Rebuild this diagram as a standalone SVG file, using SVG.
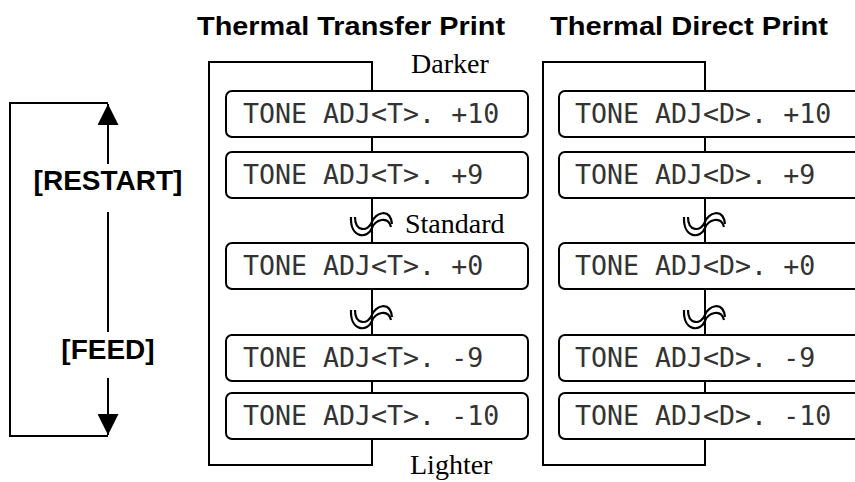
<svg xmlns="http://www.w3.org/2000/svg" width="855" height="482" viewBox="0 0 855 482">
  <style>
    .title { font-family: "Liberation Sans", Arial, sans-serif; font-weight: bold; font-size: 25px; fill: #000; }
    .key { font-family: "Liberation Sans", Arial, sans-serif; font-weight: bold; font-size: 28px; fill: #000; text-anchor: middle; }
    .note { font-family: "Liberation Serif", "Times New Roman", serif; font-size: 28px; fill: #000; }
    .lcd { font-family: "DejaVu Sans Mono", "Liberation Mono", monospace; font-size: 26.6px; fill: #333; }
    .box { fill: #fff; stroke: #000; stroke-width: 2; }
    .line { fill: none; stroke: #000; stroke-width: 2; }
    .brk { fill: none; stroke: #000; stroke-width: 2.2; }
  </style>
  <defs>
    <marker id="arrow" viewBox="0 0 20 20" refX="20" refY="10" markerWidth="21" markerHeight="21" markerUnits="userSpaceOnUse" orient="auto">
      <path d="M0,0 L20,10 L0,20 z" fill="#000"/>
    </marker>
    <g id="squiggle">
      <path d="M-21,6 C-22,28 -4,28 0,17 C3,9 16,4 19,16" class="brk"/>
      <path d="M-17,6 C-17,21 -4,21 0,11 C3,2 18,-4 20,13" class="brk"/>
    </g>
  </defs>

  <text class="title" x="197" y="35" textLength="308" lengthAdjust="spacingAndGlyphs">Thermal Transfer Print</text>
  <text class="title" x="550" y="35" textLength="278" lengthAdjust="spacingAndGlyphs">Thermal Direct Print</text>

  <g id="connectors">
    <path class="line" d="M108,103 H10 V436 H108"/>
    <path class="line" d="M108,164 V104" marker-end="url(#arrow)"/>
    <path class="line" d="M108,212 V332"/>
    <path class="line" d="M108,378 V435" marker-end="url(#arrow)"/>
    <rect class="line" x="209" y="62" width="163" height="403"/>
    <rect class="line" x="543" y="62" width="162" height="403"/>
  </g>

  <text class="key" x="108" y="190">[RESTART]</text>
  <text class="key" x="108" y="359">[FEED]</text>

  <g id="tt-p10"><rect class="box" x="226" y="91" width="302" height="46" rx="6"/><text class="lcd" x="243" y="123">TONE ADJ&lt;T&gt;. +10</text></g>
  <g id="tt-p9"><rect class="box" x="226" y="152" width="302" height="46" rx="6"/><text class="lcd" x="243" y="184">TONE ADJ&lt;T&gt;. +9</text></g>
  <g id="tt-0"><rect class="box" x="226" y="243" width="302" height="46" rx="6"/><text class="lcd" x="243" y="275">TONE ADJ&lt;T&gt;. +0</text></g>
  <g id="tt-m9"><rect class="box" x="226" y="335" width="302" height="46" rx="6"/><text class="lcd" x="243" y="367">TONE ADJ&lt;T&gt;. -9</text></g>
  <g id="tt-m10"><rect class="box" x="226" y="393" width="302" height="46" rx="6"/><text class="lcd" x="243" y="425">TONE ADJ&lt;T&gt;. -10</text></g>

  <g id="td-p10"><rect class="box" x="559" y="91" width="302" height="46" rx="6"/><text class="lcd" x="575" y="123">TONE ADJ&lt;D&gt;. +10</text></g>
  <g id="td-p9"><rect class="box" x="559" y="152" width="302" height="46" rx="6"/><text class="lcd" x="575" y="184">TONE ADJ&lt;D&gt;. +9</text></g>
  <g id="td-0"><rect class="box" x="559" y="243" width="302" height="46" rx="6"/><text class="lcd" x="575" y="275">TONE ADJ&lt;D&gt;. +0</text></g>
  <g id="td-m9"><rect class="box" x="559" y="335" width="302" height="46" rx="6"/><text class="lcd" x="575" y="367">TONE ADJ&lt;D&gt;. -9</text></g>
  <g id="td-m10"><rect class="box" x="559" y="393" width="302" height="46" rx="6"/><text class="lcd" x="575" y="425">TONE ADJ&lt;D&gt;. -10</text></g>

  <use href="#squiggle" x="372" y="211"/>
  <use href="#squiggle" x="372" y="304"/>
  <use href="#squiggle" x="705" y="211"/>
  <use href="#squiggle" x="705" y="304"/>

  <text class="note" x="411" y="73">Darker</text>
  <text class="note" x="405" y="233">Standard</text>
  <text class="note" x="410" y="474">Lighter</text>
</svg>
